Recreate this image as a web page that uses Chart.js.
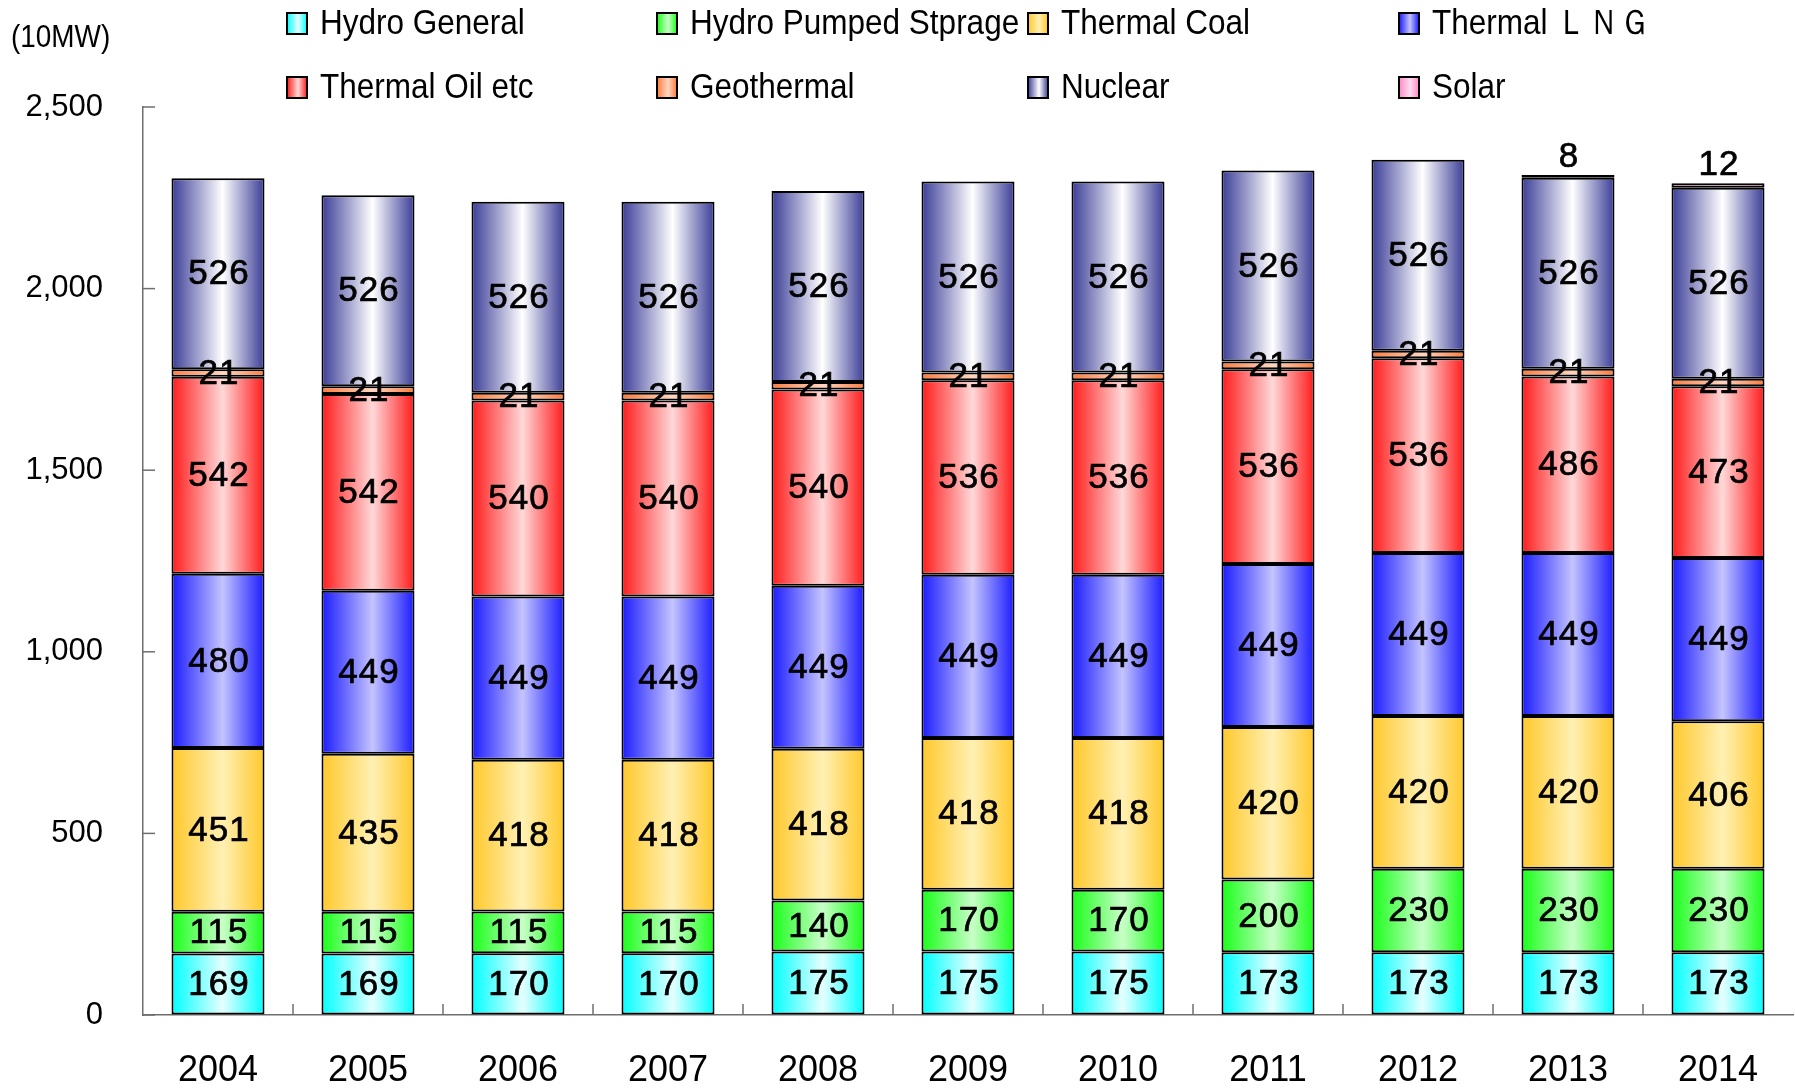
<!DOCTYPE html>
<html>
<head>
<meta charset="utf-8">
<script src="https://cdn.jsdelivr.net/npm/chart.js@4.4.1/dist/chart.umd.min.js"></script>
<style>
    html, body { margin: 0; padding: 0; background: #fff; }
    #wrap { width: 1795px; height: 1088px; position: relative; }
</style>
</head>
<body>
<div id="wrap"><canvas id="capacityChart"></canvas></div>
<script>
// --- Data (10MW) ---
const years = ['2004', '2005', '2006', '2007', '2008', '2009', '2010', '2011', '2012', '2013', '2014'];
const hydroGeneral = [169, 169, 170, 170, 175, 175, 175, 173, 173, 173, 173];
const hydroPumped  = [115, 115, 115, 115, 140, 170, 170, 200, 230, 230, 230];
const thermalCoal  = [451, 435, 418, 418, 418, 418, 418, 420, 420, 420, 406];
const thermalLng   = [480, 449, 449, 449, 449, 449, 449, 449, 449, 449, 449];
const thermalOil   = [542, 542, 540, 540, 540, 536, 536, 536, 536, 486, 473];
const geothermal   = [21, 21, 21, 21, 21, 21, 21, 21, 21, 21, 21];
const nuclear      = [526, 526, 526, 526, 526, 526, 526, 526, 526, 526, 526];
const solar        = [null, null, null, null, null, null, null, null, null, 8, 12];

const seriesNames = ['Hydro General', 'Hydro Pumped Stprage', 'Thermal Coal', 'Thermal ＬＮＧ',
                     'Thermal Oil etc', 'Geothermal', 'Nuclear', 'Solar'];
const yTicks = [0, 500, 1000, 1500, 2000, 2500];
const unitLabel = '(10MW)';

// edge colour / centre colour of each bar gradient
const palette = [
    ['#00ffff', '#e4ffff'],
    ['#18ff18', '#c8ffc8'],
    ['#ffc82a', '#fff0b4'],
    ['#1a1aff', '#c4c4ff'],
    ['#ff1a1a', '#ffd8d8'],
    ['#ff7a3a', '#ffd6c0'],
    ['#3a3c96', '#ffffff'],
    ['#ff88c4', '#ffdcee']
];

const FONT = "'Liberation Sans', Arial, sans-serif";
const BAR_FRACTION = 0.62;

function gradientFor(ctx, x0, x1, idx) {
    const g = ctx.createLinearGradient(x0, 0, x1, 0);
    g.addColorStop(0, palette[idx][0]);
    g.addColorStop(0.55, palette[idx][1]);
    g.addColorStop(1, palette[idx][0]);
    return g;
}

function barFill(context) {
    const chart = context.chart;
    const xScale = chart.scales.x;
    const idx = context.datasetIndex;
    if (!xScale || !chart.chartArea || context.dataIndex === undefined) return palette[idx][0];
    const center = xScale.getPixelForValue(context.dataIndex);
    const half = (xScale.width / years.length) * BAR_FRACTION / 2;
    return gradientFor(chart.ctx, center - half, center + half, idx);
}

const seriesData = [hydroGeneral, hydroPumped, thermalCoal, thermalLng, thermalOil, geothermal, nuclear, solar];

const datasets = seriesData.map((values, i) => ({
    label: seriesNames[i],
    data: values,
    backgroundColor: barFill,
    borderColor: '#000',
    borderWidth: 2,
    borderSkipped: false,
    categoryPercentage: 1,
    barPercentage: BAR_FRACTION
}));

// condensed text, the original uses a narrow face
function narrowText(ctx, text, x, y, scaleX) {
    ctx.save();
    ctx.translate(x, y);
    ctx.scale(scaleX, 1);
    ctx.fillText(text, 0, 0);
    ctx.restore();
}

// --- Plugins ---

// tick marks pointing into the plot, like the original
const innerTicks = {
    id: 'innerTicks',
    afterDraw(chart) {
        const { ctx, chartArea, scales } = chart;
        ctx.save();
        ctx.strokeStyle = '#6e6e6e';
        ctx.lineWidth = 1.5;
        yTicks.forEach(v => {
            const y = scales.y.getPixelForValue(v);
            ctx.beginPath();
            ctx.moveTo(chartArea.left, y);
            ctx.lineTo(chartArea.left + 12, y);
            ctx.stroke();
        });
        for (let i = 1; i < years.length; i++) {
            const x = (scales.x.getPixelForValue(i - 1) + scales.x.getPixelForValue(i)) / 2;
            ctx.beginPath();
            ctx.moveTo(x, chartArea.bottom);
            ctx.lineTo(x, chartArea.bottom - 11);
            ctx.stroke();
        }
        ctx.restore();
    }
};

// value labels inside each segment, solar above the bar
const segmentLabels = {
    id: 'segmentLabels',
    afterDatasetsDraw(chart) {
        const ctx = chart.ctx;
        ctx.save();
        ctx.font = '35px ' + FONT;
        ctx.fillStyle = '#000';
        ctx.strokeStyle = '#000';
        ctx.lineWidth = 0.7;
        ctx.textAlign = 'center';
        ctx.textBaseline = 'middle';
        ctx.letterSpacing = '1px';
        chart.data.datasets.forEach((ds, di) => {
            const meta = chart.getDatasetMeta(di);
            meta.data.forEach((bar, i) => {
                const v = ds.data[i];
                if (v === null || v === undefined) return;
                let y = (bar.y + bar.base) / 2;
                if (di === seriesData.length - 1) y = bar.y - 19;
                ctx.fillText(String(v), bar.x + 1, y + 1);
                ctx.strokeText(String(v), bar.x + 1, y + 1);
            });
        });
        ctx.restore();
    }
};

// legend in a fixed 4 x 2 grid, plus the unit label
const gridLegend = {
    id: 'gridLegend',
    afterDraw(chart) {
        const ctx = chart.ctx;
        const colX = [287, 657, 1028, 1399];
        const rowY = [23, 87];
        ctx.save();
        ctx.font = '35px ' + FONT;
        ctx.textBaseline = 'middle';
        seriesNames.forEach((name, i) => {
            const x = colX[i % 4];
            const y = rowY[Math.floor(i / 4)];
            ctx.fillStyle = gradientFor(ctx, x, x + 20, i);
            ctx.fillRect(x, y - 10, 20, 21);
            ctx.strokeStyle = '#000';
            ctx.lineWidth = 2;
            ctx.strokeRect(x, y - 10, 20, 21);
            ctx.fillStyle = '#000';
            narrowText(ctx, name, x + 33, y + 1, 0.9);
        });
        ctx.font = '31px ' + FONT;
        narrowText(ctx, unitLabel, 11, 38, 0.9);
        ctx.restore();
    }
};

Chart.defaults.font.family = FONT;
Chart.defaults.color = '#000';

new Chart(document.getElementById('capacityChart'), {
    type: 'bar',
    data: { labels: years, datasets: datasets },
    options: {
        responsive: true,
        maintainAspectRatio: false,
        animation: false,
        layout: { padding: { top: 107, right: 2, left: 0, bottom: 0 } },
        plugins: {
            legend: { display: false },
            tooltip: { enabled: false }
        },
        scales: {
            x: {
                stacked: true,
                grid: { drawOnChartArea: false, drawTicks: false },
                border: { color: '#6e6e6e', width: 1.5 },
                ticks: { font: { size: 36 }, padding: 34, color: '#000' },
                afterFit(scale) { scale.height = 73; }
            },
            y: {
                stacked: true,
                min: 0,
                max: 2500,
                grid: { drawOnChartArea: false, drawTicks: false },
                border: { color: '#6e6e6e', width: 1.5 },
                ticks: {
                    stepSize: 500,
                    font: { size: 31 },
                    padding: 40,
                    color: '#000',
                    callback: v => v.toLocaleString('en-US')
                },
                afterFit(scale) { scale.width = 143; }
            }
        }
    },
    plugins: [innerTicks, segmentLabels, gridLegend]
});
</script>
</body>
</html>
